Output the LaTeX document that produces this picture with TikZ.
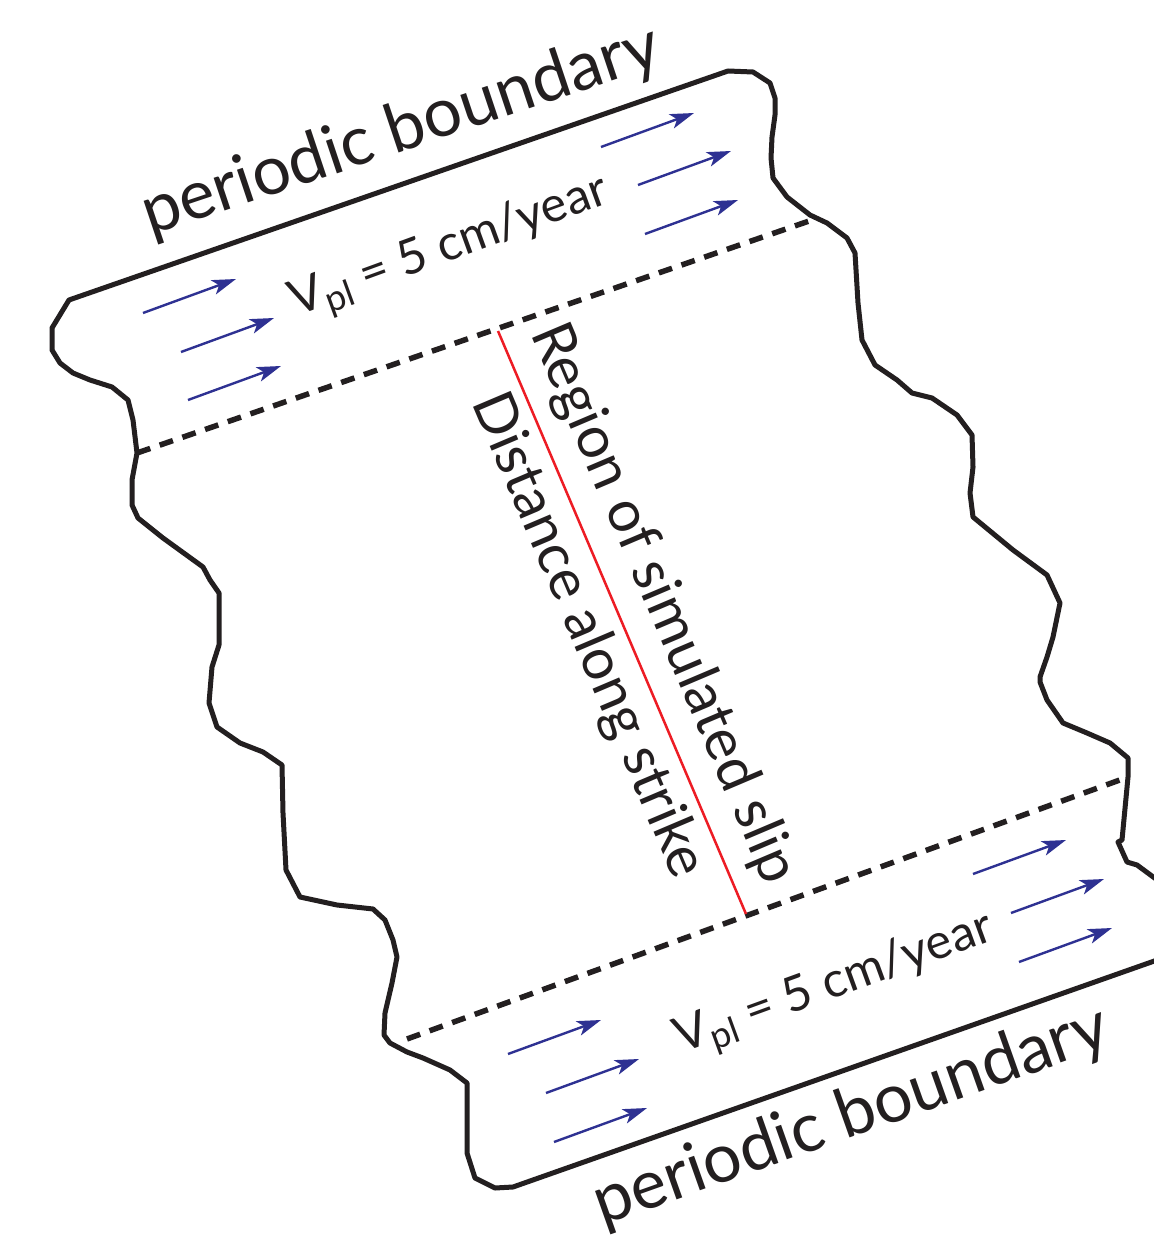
\documentclass[tikz,border=0pt]{standalone}
\usepackage{fontspec}
\setmainfont{Lato}
\usetikzlibrary{arrows.meta}
\definecolor{arrowblue}{RGB}{46,49,146}
\definecolor{slipred}{RGB}{237,28,36}
\definecolor{ink}{RGB}{35,31,32}
\begin{document}
\begin{tikzpicture}[x=1pt,y=-1pt,
  edge/.style={line width=5pt, line join=round, line cap=round, ink},
  dashline/.style={line width=5.5pt, dash pattern=on 14pt off 10pt, ink},
  vel/.style={line width=2.4pt, arrowblue, -{Stealth[length=24pt,width=15pt,inset=6pt]}},
  pbtext/.style={font=\fontsize{68}{70}\selectfont, inner sep=0pt, text=ink},
  bigtext/.style={font=\fontsize{58}{60}\selectfont, inner sep=0pt, text=ink},
  veltext/.style={font=\fontsize{49}{51}\selectfont, inner sep=0pt, text=ink}]
\useasboundingbox[fill=white] (0,0) rectangle (1153,1238);

% outline: bottom boundary, left wavy edge, top boundary, right wavy edge
\draw[edge] (1160,959) -- (513,1187) -- (495,1188) -- (475,1178) -- (467,1153) -- (467,1083)
  -- (450,1070) -- (423,1058) -- (407,1052) -- (390,1043) -- (384,1035) -- (385,1013)
  -- (392,983) -- (397,957) -- (393,940) -- (385,920) -- (373,909) -- (337,905)
  -- (300,897) -- (286,870) -- (283,813) -- (282,765) -- (263,752) -- (240,743)
  -- (217,727) -- (209,703) -- (212,667) -- (219,645) -- (219,593) -- (210,580)
  -- (203,567) -- (163,538) -- (138,518) -- (132,505) -- (132,480) -- (137,453)
  -- (133,420) -- (128,400) -- (112,387) -- (90,380) -- (73,373) -- (60,363)
  -- (52,350) -- (52,328) -- (69,300)
  -- (728,71) -- (753,72) -- (770,83) -- (775,98) -- (775,115) -- (772,137)
  -- (771,158) -- (773,178) -- (787,197) -- (810,215) -- (827,223) -- (847,238)
  -- (855,253) -- (858,303) -- (862,340) -- (875,365) -- (897,380) -- (912,393)
  -- (932,398) -- (957,415) -- (972,435) -- (973,467) -- (970,493) -- (973,517)
  -- (1013,550) -- (1047,575) -- (1060,603) -- (1053,637) -- (1047,657) -- (1040,677)
  -- (1040,682) -- (1047,700) -- (1063,723) -- (1087,733) -- (1110,743) -- (1128,758)
  -- (1128,777) -- (1122,840) -- (1118,842) -- (1127,862) -- (1137,865) -- (1160,882);

% dashed limits of the simulated region
\coordinate (ul) at (137,453);
\coordinate (ur) at (812,220);
\coordinate (ll) at (407,1039);
\coordinate (lr) at (1128,777);
\draw[dashline] (ul) -- (ur);
\draw[dashline] (ll) -- (lr);

% red fault line
\coordinate (rt) at (498,331);
\coordinate (rb) at (746,914);
\draw[line width=2.5pt, slipred] (rt) -- (rb);

% plate velocity arrows
\foreach \sx/\sy in {143/313, 181/352, 188/400, 601/147, 638/185, 645/234,
                     508/1054, 546/1093, 554/1142, 973/874, 1011/913, 1019/962}{
  \coordinate (a) at (\sx,\sy);
  \coordinate (b) at ([shift={(93,-34)}]a);
  \draw[vel] (a) -- (b);
}

% texts
\node[pbtext, rotate=18.5, anchor=base west] (pbtop) at (150,236) {periodic boundary};
\node[pbtext, rotate=19.5, anchor=base west] (pbbot) at (602,1226) {periodic boundary};
\node[veltext, rotate=20, anchor=base west] (vtop) at (296,317)
  {V{\fontsize{36}{36}\selectfont\raisebox{-8pt}{pl}} = 5 cm/year};
\node[veltext, rotate=20, anchor=base west] (vbot) at (681,1054)
  {V{\fontsize{36}{36}\selectfont\raisebox{-8pt}{pl}} = 5 cm/year};
\node[bigtext, rotate=-67, anchor=base] (region) at (648,610) {Region of simulated slip};
\node[bigtext, font=\fontsize{57}{59}\selectfont, rotate=-67, anchor=base] (dist) at (573,642) {Distance along strike};
\end{tikzpicture}
\end{document}
